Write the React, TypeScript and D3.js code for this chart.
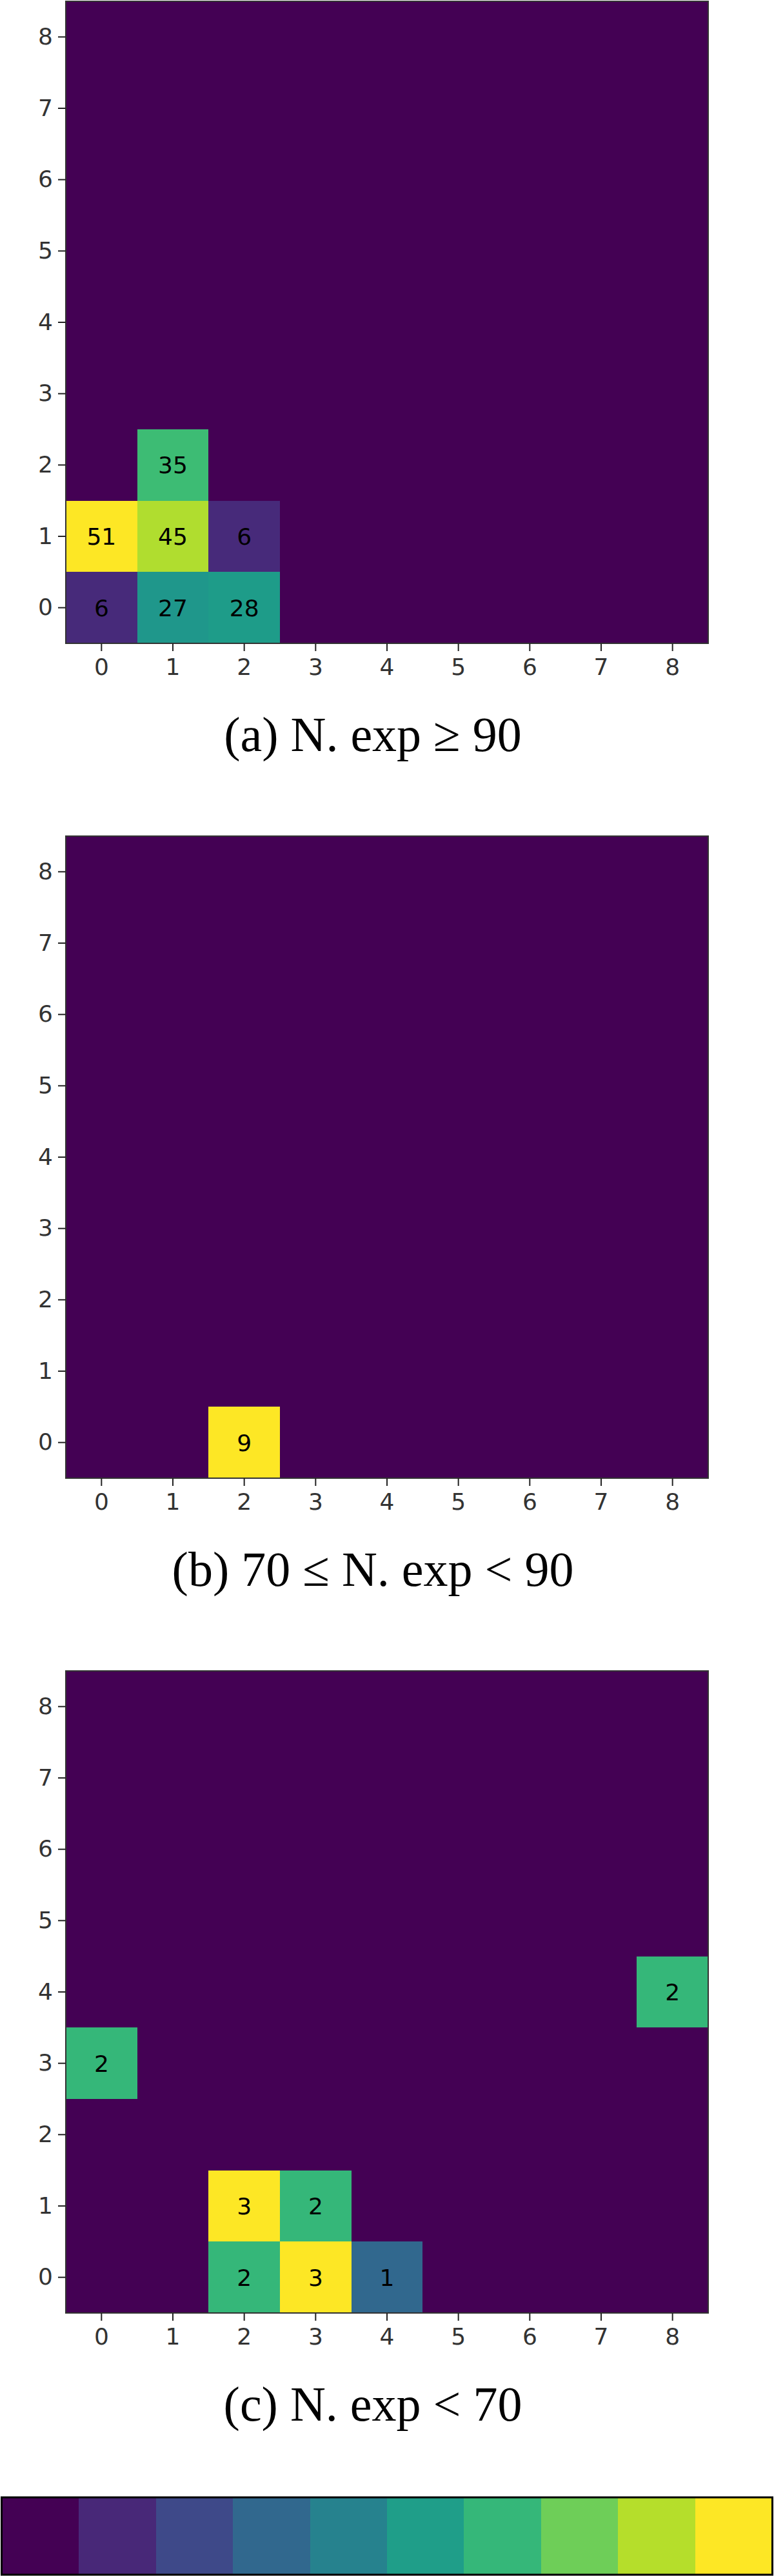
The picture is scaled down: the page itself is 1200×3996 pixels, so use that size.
import React, { useEffect, useRef } from 'react'
import * as d3 from 'd3'

// grid categories (both axes)
const xCats = [0, 1, 2, 3, 4, 5, 6, 7, 8]
const yCats = [0, 1, 2, 3, 4, 5, 6, 7, 8]

// non-zero cells: [x, y, count]
const cellsA = [[0, 0, 6], [1, 0, 27], [2, 0, 28], [0, 1, 51], [1, 1, 45], [2, 1, 6], [1, 2, 35]]
const cellsB = [[2, 0, 9]]
const cellsC = [[2, 0, 2], [3, 0, 3], [4, 0, 1], [2, 1, 3], [3, 1, 2], [0, 3, 2], [8, 4, 2]]

const captions = ['(a) N. exp \u2265 90', '(b) 70 \u2264 N. exp < 90', '(c) N. exp < 70']
const colorbarSteps = [0, 1, 2, 3, 4, 5, 6, 7, 8, 9]

const W = 1200
const H = 3996

export default function App() {
    const ref = useRef(null)

    useEffect(() => {
        const svg = d3.select(ref.current)
        svg.selectAll('*').remove()

        const left = 102
        const size = 996
        const panelTops = [2, 1297, 2592]
        const panels = [cellsA, cellsB, cellsC]

        const x = d3.scaleBand().domain(xCats).range([left, left + size])

        panels.forEach((cells, p) => {
            const top = panelTops[p]
            const y = d3.scaleBand().domain(yCats).range([top + size, top])
            const max = d3.max(cells, d => d[2])
            const color = d3.scaleSequential(d3.interpolateViridis).domain([0, max])

            const lookup = new Map(cells.map(d => [d[0] + ',' + d[1], d[2]]))
            const grid = []
            xCats.forEach(cx => yCats.forEach(cy => {
                grid.push([cx, cy, lookup.get(cx + ',' + cy) || 0])
            }))

            const g = svg.append('g')

            // background in the zero colour so no seams show between cells
            g.append('rect')
                .attr('x', left)
                .attr('y', top)
                .attr('width', size)
                .attr('height', size)
                .attr('fill', color(0))

            g.selectAll('rect.cell')
                .data(grid.filter(d => d[2] > 0))
                .enter()
                .append('rect')
                .attr('class', 'cell')
                .attr('x', d => x(d[0]))
                .attr('y', d => y(d[1]))
                .attr('width', x.bandwidth())
                .attr('height', y.bandwidth())
                .attr('shape-rendering', 'crispEdges')
                .attr('fill', d => color(d[2]))

            g.selectAll('text.val')
                .data(cells)
                .enter()
                .append('text')
                .attr('class', 'val')
                .attr('x', d => x(d[0]) + x.bandwidth() / 2)
                .attr('y', d => y(d[1]) + y.bandwidth() / 2)
                .attr('dy', '0.36em')
                .attr('text-anchor', 'middle')
                .style('font-family', 'DejaVu Sans, sans-serif')
                .style('font-size', '36px')
                .attr('fill', '#000')
                .text(d => d[2])

            // frame
            g.append('rect')
                .attr('x', left)
                .attr('y', top)
                .attr('width', size)
                .attr('height', size)
                .attr('fill', 'none')
                .attr('stroke', '#333')
                .attr('stroke-width', 2)

            const yAxis = g.append('g')
                .attr('transform', `translate(${left},0)`)
                .call(d3.axisLeft(y).tickSize(12).tickPadding(8))
            const xAxis = g.append('g')
                .attr('transform', `translate(0,${top + size})`)
                .call(d3.axisBottom(x).tickSize(12).tickPadding(11))

            ;[yAxis, xAxis].forEach(a => {
                a.select('.domain').remove()
                a.selectAll('line').attr('stroke', '#222').attr('stroke-width', 2)
                a.selectAll('text')
                    .attr('fill', '#333')
                    .style('font-family', 'DejaVu Sans, sans-serif')
                    .style('font-size', '36px')
            })

            g.append('text')
                .attr('x', 578)
                .attr('y', top + 1163)
                .attr('text-anchor', 'middle')
                .style('font-family', 'Liberation Serif, Times New Roman, serif')
                .style('font-size', '76px')
                .attr('fill', '#000')
                .text(captions[p])
        })

        // colour bar
        const cbTop = 3874
        const cbH = 120
        const cb = d3.scaleBand().domain(colorbarSteps).range([3, 1197])
        const cbColor = d3.scaleSequential(d3.interpolateViridis).domain([0, colorbarSteps.length - 1])

        svg.append('g')
            .selectAll('rect')
            .data(colorbarSteps)
            .enter()
            .append('rect')
            .attr('x', d => cb(d))
            .attr('y', cbTop)
            .attr('width', cb.bandwidth() + 0.5)
            .attr('height', cbH)
            .attr('shape-rendering', 'crispEdges')
            .attr('fill', d => cbColor(d))

        svg.append('rect')
            .attr('x', 2.5)
            .attr('y', cbTop)
            .attr('width', 1195)
            .attr('height', cbH)
            .attr('fill', 'none')
            .attr('stroke', '#000')
            .attr('stroke-width', 3)
    }, [])

    return (
        <svg
            ref={ref}
            width={W}
            height={H}
            style={{ position: 'absolute', left: 0, top: 0, background: '#fff' }}
        />
    )
}
